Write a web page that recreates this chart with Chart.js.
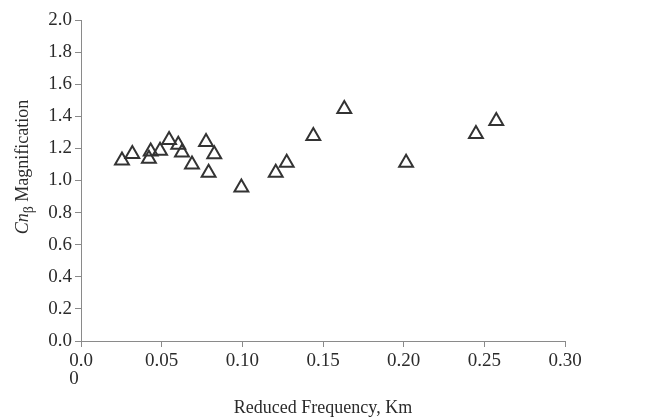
<!DOCTYPE html>
<html>
<head>
<meta charset="utf-8">
<script src="https://cdn.jsdelivr.net/npm/chart.js@4/dist/chart.umd.min.js"></script>
<style>
  html, body { margin: 0; padding: 0; background: #fff; }
  #wrap { width: 661px; height: 419px; }
</style>
</head>
<body>
<div id="wrap"><canvas id="c" width="661" height="419"></canvas></div>
<script>
// reduced frequency (Km) vs Cn_beta magnification
const freq = [0.0254, 0.0318, 0.0421, 0.0432, 0.0490, 0.0546, 0.0603, 0.0626, 0.0688, 0.0775,
              0.0826, 0.0791, 0.0994, 0.1207, 0.1275, 0.1440, 0.1632, 0.2015, 0.2448, 0.2574];
const magnification = [1.125, 1.165, 1.135, 1.18, 1.186, 1.252, 1.222, 1.174, 1.10, 1.24,
                       1.163, 1.049, 0.957, 1.049, 1.111, 1.278, 1.446, 1.111, 1.29, 1.371];
const xTicks = [0, 0.05, 0.10, 0.15, 0.20, 0.25, 0.30];
const yTicks = [0, 0.2, 0.4, 0.6, 0.8, 1.0, 1.2, 1.4, 1.6, 1.8, 2.0];

const serif = '"Liberation Serif", "DejaVu Serif", serif';
const textColor = '#2b2b2b';
const axisColor = '#8a8a8a';

// y axis title with italic Cn and subscript beta, drawn rotated
const yTitle = {
  id: 'yTitle',
  afterDraw(chart) {
    const ctx = chart.ctx;
    const parts = [
      { t: 'Cn', font: 'italic 18px ' + serif, dy: 0 },
      { t: '\u03b2', font: '14px ' + serif, dy: 5 },
      { t: ' Magnification', font: '18px ' + serif, dy: 0 }
    ];
    let total = 0;
    parts.forEach(p => { ctx.font = p.font; p.w = ctx.measureText(p.t).width; total += p.w; });
    ctx.save();
    ctx.translate(28, 167);
    ctx.rotate(-Math.PI / 2);
    ctx.fillStyle = textColor;
    ctx.textBaseline = 'alphabetic';
    let x = -total / 2;
    parts.forEach(p => {
      ctx.font = p.font;
      ctx.fillText(p.t, x, p.dy);
      x += p.w;
    });
    ctx.restore();
  }
};

new Chart(document.getElementById('c'), {
  type: 'scatter',
  data: {
    datasets: [{
      data: freq.map((f, i) => ({ x: f, y: magnification[i] })),
      pointStyle: 'triangle',
      pointRadius: 8,
      pointHoverRadius: 8,
      borderWidth: 2,
      borderColor: '#333',
      backgroundColor: 'rgba(255,255,255,0)'
    }]
  },
  options: {
    responsive: false,
    animation: false,
    layout: { padding: { top: 20, right: 96, left: 0, bottom: 0 } },
    plugins: { legend: { display: false }, tooltip: { enabled: false } },
    scales: {
      x: {
        type: 'linear',
        min: 0,
        max: 0.3,
        afterBuildTicks: axis => { axis.ticks = xTicks.map(v => ({ value: v })); },
        afterFit: axis => { axis.height = 78; },
        grid: { drawOnChartArea: false, drawTicks: true, tickLength: 6, color: axisColor },
        border: { display: true, color: axisColor, width: 1 },
        ticks: {
          color: textColor,
          padding: 5,
          maxRotation: 0,
          font: { family: serif, size: 19, lineHeight: 0.95 },
          callback: v => v === 0 ? ['0.0', '0   '] : v.toFixed(2)
        },
        title: {
          display: true,
          text: 'Reduced Frequency, Km',
          color: textColor,
          font: { family: serif, size: 18 },
          padding: { top: 0, bottom: 0 }
        }
      },
      y: {
        min: 0,
        max: 2,
        afterBuildTicks: axis => { axis.ticks = yTicks.map(v => ({ value: v })); },
        afterFit: axis => { axis.width = 81; },
        grid: { drawOnChartArea: false, drawTicks: true, tickLength: 6, color: axisColor },
        border: { display: true, color: axisColor, width: 1 },
        ticks: {
          color: textColor,
          padding: 3,
          font: { family: serif, size: 19 },
          callback: v => v.toFixed(1)
        }
      }
    }
  },
  plugins: [yTitle]
});
</script>
</body>
</html>
